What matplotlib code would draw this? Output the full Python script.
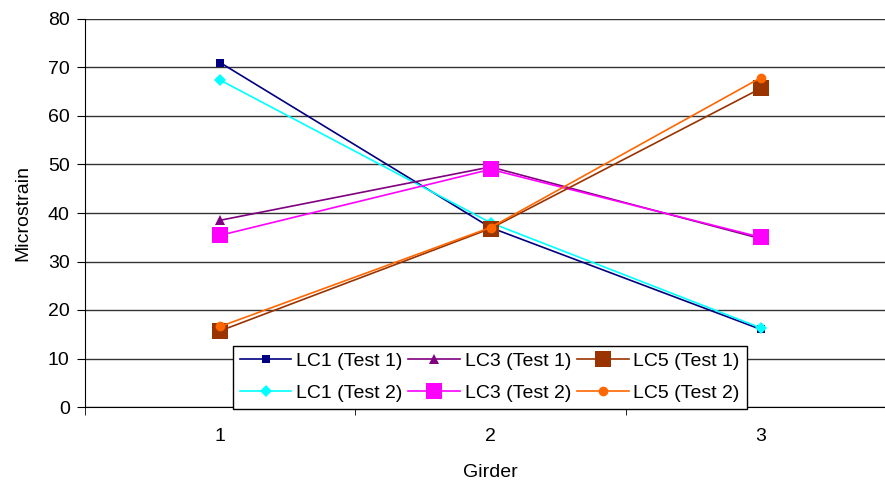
import matplotlib.pyplot as plt

plt.rcParams['font.family'] = ['Liberation Sans', 'DejaVu Sans']

girders = [1, 2, 3]
lc1_test1 = [71.0, 37.0, 16.0]
lc1_test2 = [67.4, 38.0, 16.3]
lc3_test1 = [38.5, 49.5, 34.7]
lc3_test2 = [35.4, 49.0, 35.0]
lc5_test1 = [15.7, 36.8, 65.7]
lc5_test2 = [16.6, 37.0, 67.9]

W, H = 885, 482
FS = 14
fig = plt.figure(figsize=(W / 100, H / 100), dpi=100)
ax = fig.add_axes([85 / W, 1 - 407 / H, (896 - 85) / W, (407 - 19) / H])

# series: label, data, colour, marker, marker size
series = [
    ('LC1 (Test 1)', lc1_test1, '#000080', 's', 6),
    ('LC1 (Test 2)', lc1_test2, '#00FFFF', 'D', 6.5),
    ('LC3 (Test 1)', lc3_test1, '#800080', '^', 7.5),
    ('LC3 (Test 2)', lc3_test2, '#FF00FF', 's', 11),
    ('LC5 (Test 1)', lc5_test1, '#993300', 's', 11),
    ('LC5 (Test 2)', lc5_test2, '#FF6600', 'o', 7),
]
for label, vals, col, mk, ms in series:
    ax.plot(girders, vals, color=col, marker=mk, markersize=ms, lw=1.2,
            markeredgewidth=0, label=label, clip_on=False)

ax.set_xlim(0.5, 3.5)
ax.set_ylim(0, 80)
ax.set_yticks(range(0, 81, 10))
ax.set_xticks(girders)
ax.set_xticks([0.5, 1.5, 2.5], minor=True)
ax.tick_params(axis='x', which='major', length=0, pad=15, labelsize=FS)
ax.tick_params(axis='x', which='minor', length=6, direction='out')
ax.tick_params(axis='y', length=6, direction='out', labelsize=FS, pad=5)
ax.grid(axis='y', color='#333333', lw=1)
ax.set_axisbelow(True)
for s in ['top', 'right']:
    ax.spines[s].set_visible(False)
ax.set_xlabel('Girder', fontsize=FS, labelpad=14)
ax.set_ylabel('Microstrain', fontsize=FS, labelpad=12)

leg = fig.legend(loc='lower left', bbox_to_anchor=(233 / W, 1 - 409 / H),
                 ncol=3, fontsize=FS, frameon=True, fancybox=False,
                 borderaxespad=0, handlelength=2.65, columnspacing=0.3,
                 handletextpad=0.25, borderpad=0.35, labelspacing=0.75)
leg.get_frame().set_edgecolor('black')
leg.get_frame().set_linewidth(1)
leg.get_frame().set_alpha(1)

fig.savefig('out.png', dpi=100)
